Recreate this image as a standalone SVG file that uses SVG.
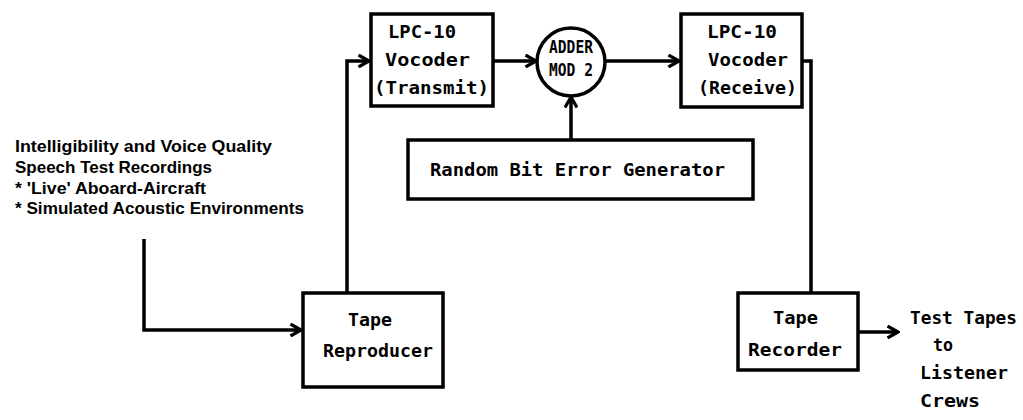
<svg xmlns="http://www.w3.org/2000/svg" width="1023" height="420" viewBox="0 0 1023 420">
<style>
.box{fill:#fff;stroke:#000;stroke-width:3.5}
.ln{fill:none;stroke:#000;stroke-width:3.5}
.m{font-family:"DejaVu Sans Mono","Liberation Mono",monospace;font-weight:bold;font-size:17px;fill:#000}
.s{font-family:"Liberation Sans",Arial,sans-serif;font-weight:bold;font-size:16.5px;fill:#000}
</style>
<defs>
<marker id="ah" viewBox="0 0 14 14" refX="12.5" refY="7" markerWidth="14" markerHeight="14" markerUnits="userSpaceOnUse" orient="auto">
<polyline points="2,1 12.5,7 2,13" fill="none" stroke="#000" stroke-width="3.2"/>
</marker>
</defs>
<g id="connectors">
<polyline class="ln" points="347,293 347,61 369,61" marker-end="url(#ah)"/>
<line class="ln" x1="493" y1="61" x2="536" y2="61" marker-end="url(#ah)"/>
<line class="ln" x1="605" y1="61" x2="679" y2="61" marker-end="url(#ah)"/>
<line class="ln" x1="571" y1="140" x2="571" y2="97" marker-end="url(#ah)"/>
<polyline class="ln" points="802,61 811,61 811,293"/>
<polyline class="ln" points="144,239 144,330 301,330" marker-end="url(#ah)"/>
<line class="ln" x1="858" y1="332" x2="898" y2="332" marker-end="url(#ah)"/>
</g>
<g id="input-text">
<text class="s" x="15" y="152" textLength="257" lengthAdjust="spacingAndGlyphs">Intelligibility and Voice Quality</text>
<text class="s" x="15" y="173" textLength="197" lengthAdjust="spacingAndGlyphs">Speech Test Recordings</text>
<text class="s" x="15" y="194" textLength="191" lengthAdjust="spacingAndGlyphs">* 'Live' Aboard-Aircraft</text>
<text class="s" x="15" y="214" textLength="289" lengthAdjust="spacingAndGlyphs">* Simulated Acoustic Environments</text>
</g>
<g id="transmit">
<rect class="box" x="371" y="14" width="122" height="92"/>
<text class="m" x="388" y="38" textLength="68" lengthAdjust="spacingAndGlyphs">LPC-10</text>
<text class="m" x="385" y="66" textLength="85" lengthAdjust="spacingAndGlyphs">Vocoder</text>
<text class="m" x="374" y="94" textLength="115" lengthAdjust="spacingAndGlyphs">(Transmit)</text>
</g>
<g id="adder">
<circle class="box" cx="571" cy="62" r="34"/>
<text class="m" x="571" y="53" text-anchor="middle" font-size="15" textLength="44" lengthAdjust="spacingAndGlyphs">ADDER</text>
<text class="m" x="571" y="76" text-anchor="middle" font-size="15" textLength="44" lengthAdjust="spacingAndGlyphs">MOD 2</text>
</g>
<g id="receive">
<rect class="box" x="681" y="14" width="121" height="93"/>
<text class="m" x="707" y="38" textLength="70" lengthAdjust="spacingAndGlyphs">LPC-10</text>
<text class="m" x="708" y="66" textLength="80" lengthAdjust="spacingAndGlyphs">Vocoder</text>
<text class="m" x="698" y="94" textLength="99" lengthAdjust="spacingAndGlyphs">(Receive)</text>
</g>
<g id="error-generator">
<rect class="box" x="408" y="140" width="345" height="59"/>
<text class="m" x="430" y="176" textLength="295" lengthAdjust="spacingAndGlyphs">Random Bit Error Generator</text>
</g>
<g id="reproducer">
<rect class="box" x="303" y="293" width="140" height="94"/>
<text class="m" x="348" y="326" textLength="44" lengthAdjust="spacingAndGlyphs">Tape</text>
<text class="m" x="323" y="357" textLength="110" lengthAdjust="spacingAndGlyphs">Reproducer</text>
</g>
<g id="recorder">
<rect class="box" x="738" y="293" width="120" height="77"/>
<text class="m" x="773" y="324" textLength="45" lengthAdjust="spacingAndGlyphs">Tape</text>
<text class="m" x="748" y="356" textLength="94" lengthAdjust="spacingAndGlyphs">Recorder</text>
</g>
<g id="output-text">
<text class="m" x="910" y="324" textLength="107" lengthAdjust="spacingAndGlyphs">Test Tapes</text>
<text class="m" x="933" y="351" textLength="20" lengthAdjust="spacingAndGlyphs">to</text>
<text class="m" x="920" y="379" textLength="88" lengthAdjust="spacingAndGlyphs">Listener</text>
<text class="m" x="920" y="407" textLength="60" lengthAdjust="spacingAndGlyphs">Crews</text>
</g>
</svg>
